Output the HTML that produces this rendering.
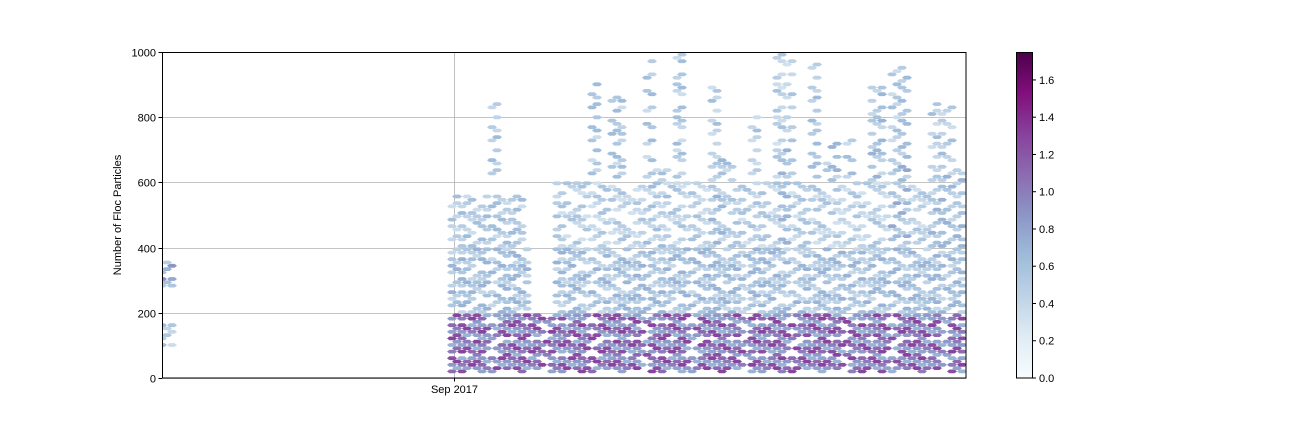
<!DOCTYPE html>
<html><head><meta charset="utf-8">
<style>
html,body{margin:0;padding:0;background:#fff;}
svg{display:block;font-family:"Liberation Sans",sans-serif;}
</style></head>
<body>
<svg id="chart" width="1296" height="432" viewBox="0 0 1296 432">
<defs>
<linearGradient id="cb" x1="0" y1="1" x2="0" y2="0">
<stop offset="0" stop-color="#f7fcfd"/><stop offset="0.125" stop-color="#e0ecf4"/>
<stop offset="0.25" stop-color="#bfd3e6"/><stop offset="0.375" stop-color="#9ebcda"/>
<stop offset="0.5" stop-color="#8c96c6"/><stop offset="0.625" stop-color="#8c6bb1"/>
<stop offset="0.75" stop-color="#88419d"/><stop offset="0.875" stop-color="#810f7c"/>
<stop offset="1" stop-color="#4d004b"/></linearGradient>
<clipPath id="pc"><rect x="162" y="52" width="804" height="326"/></clipPath>
</defs>
<g id="grid"></g>
<g id="hexes" clip-path="url(#pc)"></g>
<rect x="162.5" y="52.5" width="803.5" height="325.5" fill="none" stroke="#000" stroke-width="1"/>
<g id="axes"></g>
<text transform="translate(121,215) rotate(-90)" text-anchor="middle" font-size="11">Number of Floc Particles</text>
<rect x="1016.5" y="52.5" width="16" height="325.5" fill="url(#cb)" stroke="#000" stroke-width="1"/>
<g id="cbaxis"></g>
</svg>
<script>
// days relative to Sep 1 2017
const xDomain = [-27, 47.4];
const yDomain = [0, 1000];
const yTicks = [0, 200, 400, 600, 800, 1000];
const xTickDays = [0];
const xTickLabels = ["Sep 2017"];
const cbTicks = [0, 0.2, 0.4, 0.6, 0.8, 1.0, 1.2, 1.4, 1.6];
const cbMax = 1.75;
// segments: [dayStart, dayEnd, yLow, yHigh, value, fillFraction]
const segStart = [-27,-27, -0.4, -0.4, 9.5, -0.4, 3.3, 5.5, 9.5, 12.6, 14.5, 17.5, 17.5, 20.5, 23.5, 23.5, 25.0, 27.5, 29.5, 30.0, 33.0, 34.5, 36.0, 38.5, 40.5, 40.5, 44.0, 44.0];
const segEnd   = [-26,-26, 47.4, 7.0, 47.4, 6.5, 4.4, 6.5, 47.4, 13.6, 16.0, 20.0, 18.5, 21.5, 24.5, 25.0, 26.0, 28.5, 31.5, 30.9, 34.0, 35.5, 37.0, 40.0, 42.0, 42.0, 46.5, 47.4];
const segLow   = [100, 280, 15, 200, 200, 400, 600, 400, 400, 600, 600, 400, 600, 600, 600, 400, 600, 600, 600, 400, 600, 600, 600, 600, 600, 400, 600, 400];
const segHigh  = [180, 360, 200, 400, 400, 560, 860, 540, 600, 920, 870, 640, 980, 1000, 900, 680, 700, 800, 1000, 700, 980, 720, 760, 900, 960, 700, 850, 640];
const segValue = [0.5, 0.7, 1.0, 0.55, 0.55, 0.5, 0.5, 0.5, 0.45, 0.5, 0.5, 0.5, 0.5, 0.5, 0.5, 0.55, 0.5, 0.5, 0.45, 0.55, 0.5, 0.55, 0.5, 0.55, 0.5, 0.6, 0.5, 0.55];
const segFill  = [0.7, 0.7, 0.85, 0.65, 0.65, 0.55, 0.5, 0.55, 0.5, 0.5, 0.5, 0.55, 0.5, 0.5, 0.5, 0.55, 0.45, 0.45, 0.45, 0.55, 0.45, 0.5, 0.45, 0.55, 0.5, 0.6, 0.5, 0.6];

const X0=162,X1=966,Y0=378,Y1=52;
const xs=d=>X0+(d-xDomain[0])/(xDomain[1]-xDomain[0])*(X1-X0);
const ys=v=>Y0-(v-yDomain[0])/(yDomain[1]-yDomain[0])*(Y0-Y1);
const stops=[[0,'#f7fcfd'],[0.125,'#e0ecf4'],[0.25,'#bfd3e6'],[0.375,'#9ebcda'],[0.5,'#8c96c6'],[0.625,'#8c6bb1'],[0.75,'#88419d'],[0.875,'#810f7c'],[1,'#4d004b']];
function hx(h){return [1,3,5].map(i=>parseInt(h.substr(i,2),16));}
function cmap(v){let t=Math.max(0,Math.min(1,v/cbMax));for(let i=1;i<stops.length;i++){if(t<=stops[i][0]){const a=stops[i-1],b=stops[i];const f=(t-a[0])/(b[0]-a[0]);const ca=hx(a[1]),cb=hx(b[1]);return 'rgb('+ca.map((c,k)=>Math.round(c+(cb[k]-c)*f)).join(',')+')';}}return stops[8][1];}
const NS='http://www.w3.org/2000/svg';
function mk(tag,attrs,parent){const e=document.createElementNS(NS,tag);for(const k in attrs)e.setAttribute(k,attrs[k]);parent.appendChild(e);return e;}
const grid=document.getElementById('grid'),axes=document.getElementById('axes'),hexG=document.getElementById('hexes'),cbG=document.getElementById('cbaxis');
yTicks.forEach(t=>{const y=Math.round(ys(t))+0.5;
 const l=mk('line',{x1:X0,x2:X1,y1:y,y2:y,stroke:'#b0b0b0','stroke-width':0.8},grid);
 
 
 mk('line',{x1:X0-3.5,x2:X0,y1:y,y2:y,stroke:'#000'},axes);
 const tx=mk('text',{x:X0-6,y:y+4,'text-anchor':'end','font-size':11},axes);tx.textContent=t;
 
 });
xTickDays.forEach((d,i)=>{const x=Math.round(xs(d))+0.5;
 const l=mk('line',{x1:x,x2:x,y1:Y1,y2:Y0,stroke:'#b0b0b0','stroke-width':0.8},grid);
 
 
 mk('line',{x1:x,x2:x,y1:Y0,y2:Y0+3.5,stroke:'#000'},axes);
 const tx=mk('text',{x:x,y:Y0+15,'text-anchor':'middle','font-size':11},axes);tx.textContent=xTickLabels[i];
 
 });
// hex grid (flat hexes, dithered coverage)
const dx=10,dy=6.6;
function hexPath(cx,cy){const w=5,h=1.9,s=2.6;return `M${cx-w},${cy}L${cx-s},${cy-h}L${cx+s},${cy-h}L${cx+w},${cy}L${cx+s},${cy+h}L${cx-s},${cy+h}Z`;}
const shade=[0.7,1.0,1.25,0.85,1.1,0.8,1.3];
const cells={};
for(let s=0;s<segStart.length;s++){
 const xa=xs(segStart[s]),xb=xs(segEnd[s]),ya=ys(segHigh[s]),yb=ys(segLow[s]);
 for(let r=0;r<=Math.ceil((Y0-Y1)/dy*2);r++){const cy=Y0-r*dy/2;if(cy<ya||cy>yb)continue;
  const off=(r%2)*dx/2;
  for(let c=0;c<=Math.ceil((X1-X0)/dx);c++){const cx=X0+off+c*dx;if(cx<xa||cx>xb)continue;
   const d=((r*7+c*13+((r*c)%5))%10)/10;
   if(d>=segFill[s]){delete cells[r+'_'+c];continue;}
   cells[r+'_'+c]={cx,cy,v:segValue[s]*shade[(r*3+c*5)%7]};}}
}
for(const k in cells){const c=cells[k];
 const p=mk('path',{d:hexPath(c.cx,c.cy),fill:cmap(c.v)},hexG);
 
 }
// colorbar ticks
cbTicks.forEach(t=>{const y=378-t/cbMax*326;
 mk('line',{x1:1032.5,x2:1036,y1:y,y2:y,stroke:'#000'},cbG);
 const tx=mk('text',{x:1039,y:y+4,'font-size':11},cbG);tx.textContent=t.toFixed(1);
 
 });
</script>
</body></html>
